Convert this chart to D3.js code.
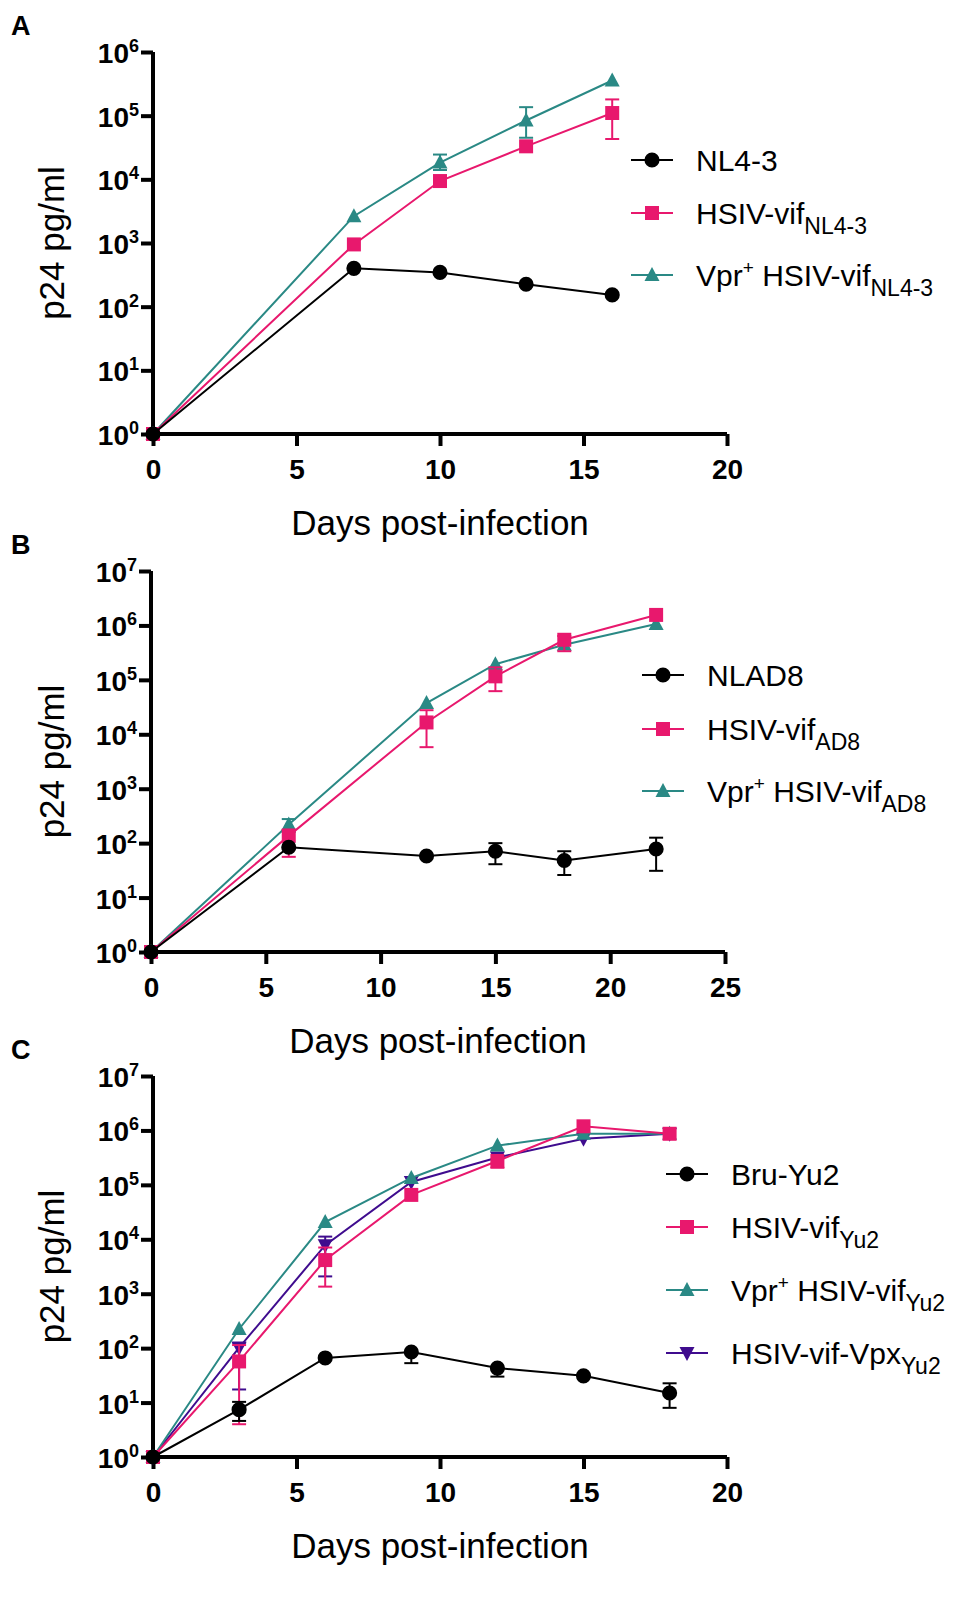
<!DOCTYPE html>
<html>
<head>
<meta charset="utf-8">
<script src="https://cdn.jsdelivr.net/npm/d3@7"></script>
<style>
  body { margin: 0; background: #fff; }
  svg { display: block; font-family: "Liberation Sans", Arial, sans-serif; }
  .tick-lbl { font-weight: bold; font-size: 28px; }
  .axis-title { font-size: 35px; }
  .legend-txt { font-size: 30px; }
  .panel-lbl { font-weight: bold; font-size: 27px; }
</style>
</head>
<body>
<svg id="viz" width="979" height="1608"></svg>
<script>
// ---- data ----
// panel A
var daysA = [0, 7, 10, 13, 16]
var nl43A = [1, 400, 345, 225, 153]
var hsivA = [1, 950, 9400, 33000, 110000]
var hsivAHi = [null, null, null, null, 180000]
var hsivALo = [null, null, null, null, 43000]
var vprA = [1, 2640, 18300, 84000, 357000]
var vprAHi = [null, null, 24500, 136000, null]
var vprALo = [null, null, 14000, 45000, null]

// panel B
var daysB = [0, 6, 12, 15, 18, 22]
var nlad8B = [1, 84, 58, 71, 48, 78]
var nlad8BHi = [null, null, null, 100, 71, 126]
var nlad8BLo = [null, null, null, 41, 26, 31]
var hsivB = [1, 136, 16500, 116000, 545000, 1560000]
var hsivBHi = [null, 178, 27700, 170000, 640000, null]
var hsivBLo = [null, 56, 5800, 62000, 336000, null]
var vprB = [1, 219, 37500, 194000, 443000, 1060000]
var vprBHi = [null, 277, null, null, null, null]
var vprBLo = [null, 160, null, null, null, null]

// panel C
var daysC = [0, 3, 6, 9, 12, 15, 18]
var bruC = [1, 7.4, 66, 85, 43, 31, 15]
var bruCHi = [null, 10.3, null, null, null, null, 22.6]
var bruCLo = [null, 4.6, null, 53, 30, null, 8]
var hsivC = [1, 57, 4150, 65400, 275000, 1190000, 868000]
var hsivCHi = [null, 114, 7060, null, null, null, null]
var hsivCLo = [null, 4.0, 1350, null, 206000, null, null]
var vprC = [1, 225, 20700, 134000, 526000, 870000, 870000]
var vpxC = [1, 102, 7800, 113000, 318000, 700000, 870000]
var vpxCHi = [null, 126, 11200, null, null, null, null]
var vpxCLo = [null, 17.4, 2080, null, null, null, null]

var xTicksA = [0, 5, 10, 15, 20]
var xTicksB = [0, 5, 10, 15, 20, 25]
var yExpA = [0, 1, 2, 3, 4, 5, 6]
var yExpB = [0, 1, 2, 3, 4, 5, 6, 7]

var black = "#000000", pink = "#E8186D", teal = "#2A8985", purple = "#3F0C8E"

var svg = d3.select("#viz")

function drawPanel(p) {
    var g = svg.append("g")
    var x = d3.scaleLinear().domain(p.xDomain).range([p.left, p.right])
    var y = d3.scaleLog().domain([1, Math.pow(10, d3.max(p.yExp))]).range([p.bottom, p.top])

    // panel letter
    g.append("text").attr("class", "panel-lbl").attr("x", 11).attr("y", p.top - 17).text(p.letter)

    // y axis
    var yAx = g.append("g").attr("transform", `translate(${p.left},0)`)
        .call(d3.axisLeft(y).tickValues(p.yExp.map(e => Math.pow(10, e))).tickSize(12).tickFormat(""))
    yAx.select(".domain").attr("stroke-width", 4).attr("d", `M0,${p.top}V${p.bottom}`)
    yAx.selectAll(".tick line").attr("stroke-width", 4)
    p.yExp.forEach(e => {
        var t = g.append("text").attr("class", "tick-lbl").attr("text-anchor", "end")
            .attr("x", p.left - 14).attr("y", y(Math.pow(10, e)) + 11)
        t.append("tspan").text("10")
        t.append("tspan").attr("dy", -11).attr("font-size", 18).text(e)
    })

    // x axis
    var xAx = g.append("g").attr("transform", `translate(0,${p.bottom})`)
        .call(d3.axisBottom(x).tickValues(p.xTicks).tickSize(12).tickPadding(13))
    xAx.select(".domain").attr("stroke-width", 4).attr("d", `M${p.left - 2},0H${p.right}`)
    xAx.selectAll(".tick line").attr("stroke-width", 4)
    xAx.selectAll(".tick text").attr("class", "tick-lbl").attr("font-family", null).attr("font-size", null)

    // titles
    g.append("text").attr("class", "axis-title").attr("text-anchor", "middle")
        .attr("x", (p.left + p.right) / 2).attr("y", p.bottom + 101).text("Days post-infection")
    g.append("text").attr("class", "axis-title").attr("text-anchor", "middle")
        .attr("transform", `translate(64,${(p.top + p.bottom) / 2}) rotate(-90)`).text("p24 pg/ml")

    var line = d3.line().x(d => x(d.day)).y(d => y(d.v))

    // draw series last-to-first so the first listed sits on top
    p.series.slice().reverse().forEach(s => {
        var pts = p.days.map((d, i) => ({day: d, v: s.values[i], hi: s.hi ? s.hi[i] : null, lo: s.lo ? s.lo[i] : null}))
        var sg = g.append("g")
        // error bars
        pts.forEach(d => {
            [d.hi, d.lo].forEach(e => {
                if (e == null) return
                sg.append("line").attr("x1", x(d.day)).attr("x2", x(d.day))
                  .attr("y1", y(d.v)).attr("y2", y(e)).attr("stroke", s.color).attr("stroke-width", 2)
                sg.append("line").attr("x1", x(d.day) - 7).attr("x2", x(d.day) + 7)
                  .attr("y1", y(e)).attr("y2", y(e)).attr("stroke", s.color).attr("stroke-width", 2)
            })
        })
        sg.append("path").datum(pts).attr("d", line).attr("fill", "none")
          .attr("stroke", s.color).attr("stroke-width", 2)
        sg.selectAll(".mk").data(pts).enter().append("path")
          .attr("transform", d => `translate(${x(d.day)},${y(d.v)})`)
          .attr("d", marker(s.shape)).attr("fill", s.color)
    })

    // legend
    p.series.forEach((s, i) => {
        var ly = p.legendY[i]
        g.append("line").attr("x1", p.legendX).attr("x2", p.legendX + 42).attr("y1", ly).attr("y2", ly)
          .attr("stroke", s.color).attr("stroke-width", 2)
        g.append("path").attr("transform", `translate(${p.legendX + 21},${ly})`)
          .attr("d", marker(s.shape)).attr("fill", s.color)
        var t = g.append("text").attr("class", "legend-txt").attr("x", p.legendX + 65).attr("y", ly + 11)
        s.label.forEach(part => {
            var ts = t.append("tspan").text(part.t)
            if (part.sub) ts.attr("font-size", 23).attr("dy", 10)
            if (part.sup) ts.attr("font-size", 19).attr("dy", -12)
            if (part.back) ts.attr("dy", part.back)
        })
    })
}

function marker(shape) {
    if (shape == "circle") return d3.symbol(d3.symbolCircle, 180)()
    if (shape == "square") return "M-7,-7H7V7H-7Z"
    if (shape == "triangle") return "M0,-8L7.5,6H-7.5Z"
    return "M0,8L7.5,-6H-7.5Z"
}

drawPanel({
    letter: "A", left: 153, right: 727, top: 52, bottom: 434,
    xDomain: [0, 20], xTicks: xTicksA, yExp: yExpA, days: daysA,
    legendX: 631, legendY: [160, 213, 275],
    series: [
        {values: nl43A, color: black, shape: "circle", label: [{t: "NL4-3"}]},
        {values: hsivA, hi: hsivAHi, lo: hsivALo, color: pink, shape: "square",
         label: [{t: "HSIV-vif"}, {t: "NL4-3", sub: true}]},
        {values: vprA, hi: vprAHi, lo: vprALo, color: teal, shape: "triangle",
         label: [{t: "Vpr"}, {t: "+", sup: true}, {t: " HSIV-vif", back: 12}, {t: "NL4-3", sub: true}]}
    ]
})

drawPanel({
    letter: "B", left: 151, right: 725, top: 571, bottom: 952,
    xDomain: [0, 25], xTicks: xTicksB, yExp: yExpB, days: daysB,
    legendX: 642, legendY: [675, 729, 791],
    series: [
        {values: nlad8B, hi: nlad8BHi, lo: nlad8BLo, color: black, shape: "circle", label: [{t: "NLAD8"}]},
        {values: hsivB, hi: hsivBHi, lo: hsivBLo, color: pink, shape: "square",
         label: [{t: "HSIV-vif"}, {t: "AD8", sub: true}]},
        {values: vprB, hi: vprBHi, lo: vprBLo, color: teal, shape: "triangle",
         label: [{t: "Vpr"}, {t: "+", sup: true}, {t: " HSIV-vif", back: 12}, {t: "AD8", sub: true}]}
    ]
})

drawPanel({
    letter: "C", left: 153, right: 727, top: 1076, bottom: 1457,
    xDomain: [0, 20], xTicks: xTicksA, yExp: yExpB, days: daysC,
    legendX: 666, legendY: [1174, 1227, 1290, 1353],
    series: [
        {values: bruC, hi: bruCHi, lo: bruCLo, color: black, shape: "circle", label: [{t: "Bru-Yu2"}]},
        {values: hsivC, hi: hsivCHi, lo: hsivCLo, color: pink, shape: "square",
         label: [{t: "HSIV-vif"}, {t: "Yu2", sub: true}]},
        {values: vprC, color: teal, shape: "triangle",
         label: [{t: "Vpr"}, {t: "+", sup: true}, {t: " HSIV-vif", back: 12}, {t: "Yu2", sub: true}]},
        {values: vpxC, hi: vpxCHi, lo: vpxCLo, color: purple, shape: "down",
         label: [{t: "HSIV-vif-Vpx"}, {t: "Yu2", sub: true}]}
    ]
})
</script>
</body>
</html>
